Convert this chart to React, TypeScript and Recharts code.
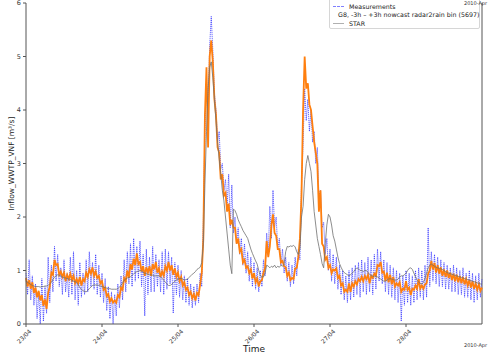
import React from "react";
import { LineChart, Line, XAxis, YAxis, Legend, ReferenceLine } from "recharts";

const FONT = "'DejaVu Sans', sans-serif";

const dayTicks = [0, 24, 48, 72, 96, 120];
const dayLabels = ["23/04", "24/04", "25/04", "26/04", "27/04", "28/04"];
const flowTicks = [0, 1, 2, 3, 4, 5, 6];

// half-hourly values from 23/04 00:00 (m3/s)
const measurements = [
  0.95, 0.55, 1.2, 0.45, 0.9, 0.35, 0.75, 0.1, 0.6, 0.0, 0.85, 0.05, 0.7, 0.2, 1.25, 0.4, 1.1, 0.6, 1.45, 0.8,
  1.3, 0.7, 1.05, 0.55, 1.2, 0.6, 0.95, 0.5, 1.25, 0.55, 1.35, 0.45, 1.0, 0.35, 1.15, 0.5, 0.95, 0.55, 1.2, 0.6,
  1.35, 0.7, 1.15, 0.65, 1.3, 0.55, 1.1, 0.5, 0.95, 0.4, 0.85, 0.25, 0.7, 0.1, 0.6, 0.0, 0.55, 0.15, 0.75, 0.3,
  0.9, 0.45, 1.2, 0.6, 1.35, 0.75, 1.5, 0.7, 1.6, 0.8, 1.45, 0.85, 1.55, 0.7, 1.3, 0.15, 1.4, 0.55, 1.25, 0.6,
  1.45, 0.6, 1.3, 0.7, 1.2, 0.6, 1.35, 0.55, 1.4, 0.65, 1.35, 0.75, 1.25, 0.2, 1.15, 0.55, 1.1, 0.5, 1.0, 0.45,
  0.9, 0.4, 0.85, 0.35, 0.75, 0.3, 0.7, 0.35, 0.75, 0.4, 0.95, 0.7, 1.9, 3.6, 4.6, 3.9, 5.2, 5.75, 5.1, 4.3,
  4.0, 3.4, 3.6, 2.9, 3.0, 2.5, 2.7, 2.2, 2.8, 1.8, 2.6, 1.7, 2.0, 1.5, 1.8, 1.3, 1.6, 1.1, 1.5, 0.95,
  1.35, 0.8, 1.25, 0.7, 1.15, 0.65, 1.05, 0.6, 1.0, 0.7, 1.2, 0.9, 1.7, 1.3, 2.2, 1.6, 2.5, 1.8, 2.0, 1.4,
  1.6, 1.1, 1.4, 0.95, 1.25, 0.8, 1.15, 0.7, 1.1, 0.75, 1.25, 0.9, 1.4, 1.2, 2.6, 3.4, 4.4, 3.8, 4.2, 3.6,
  4.0, 3.4, 3.6, 3.0, 3.3, 2.4, 2.5, 1.8, 1.9, 1.3, 1.6, 1.0, 1.4, 0.8, 1.3, 0.75, 1.25, 0.65, 1.1, 0.55,
  1.0, 0.45, 0.9, 0.4, 1.0, 0.45, 1.05, 0.5, 1.1, 0.55, 1.15, 0.5, 1.2, 0.6, 1.15, 0.55, 1.25, 0.6, 1.2, 0.55,
  1.3, 0.65, 1.4, 0.8, 1.35, 0.75, 1.2, 0.6, 1.15, 0.55, 1.1, 0.5, 1.05, 0.45, 1.0, 0.4, 0.95, 0.05, 0.9, 0.35,
  1.0, 0.4, 0.95, 0.35, 0.9, 0.4, 1.0, 0.45, 1.05, 0.5, 1.0, 0.45, 1.1, 0.5, 1.8, 0.7, 1.35, 0.8, 1.3, 0.75,
  1.25, 0.7, 1.2, 0.7, 1.15, 0.65, 1.1, 0.65, 1.05, 0.6, 1.1, 0.6, 1.05, 0.55, 1.0, 0.55, 1.05, 0.5, 0.95, 0.5,
  1.0, 0.45, 0.95, 0.4, 0.9, 0.45, 0.95, 0.5, 0.85,
];

const nowcast = [
  0.86, 0.7, 0.82, 0.66, 0.78, 0.58, 0.68, 0.5, 0.62, 0.44, 0.54, 0.34, 0.46, 0.28, 0.58, 0.7, 0.96, 0.92, 1.2, 1.1,
  1.12, 0.92, 0.98, 0.88, 0.96, 0.8, 0.92, 0.84, 0.94, 0.82, 0.9, 0.76, 0.84, 0.76, 0.88, 0.72, 0.84, 0.8, 0.96, 0.88,
  1.02, 0.94, 1.06, 0.9, 0.98, 0.86, 0.9, 0.76, 0.8, 0.64, 0.68, 0.52, 0.56, 0.42, 0.48, 0.4, 0.44, 0.4, 0.54, 0.5,
  0.68, 0.64, 0.86, 0.8, 1.0, 0.86, 1.12, 1.02, 1.22, 1.1, 1.32, 1.12, 1.16, 0.98, 1.08, 0.9, 1.06, 0.96, 1.08, 0.9,
  1.12, 1.02, 1.16, 0.96, 1.04, 0.88, 0.98, 0.9, 1.08, 1.0, 1.16, 1.0, 1.1, 0.92, 1.04, 0.88, 0.96, 0.8, 0.88, 0.72,
  0.78, 0.64, 0.68, 0.54, 0.6, 0.48, 0.56, 0.44, 0.58, 0.54, 0.74, 0.95, 1.6, 3.9, 4.8, 3.3, 5.0, 5.3, 4.9, 4.2,
  3.9, 3.3, 3.2, 2.7, 2.8, 2.4, 2.45, 2.1, 2.25, 1.85, 1.95, 1.8, 1.8, 1.5, 1.6, 1.35, 1.4, 1.15, 1.2, 1.05,
  1.08, 0.95, 1.02, 0.85, 0.95, 0.78, 0.85, 0.7, 0.8, 0.82, 0.96, 1.05, 1.55, 1.25, 1.45, 1.85, 2.05, 1.7, 1.65, 1.4,
  1.4, 1.15, 1.18, 1.08, 1.06, 0.9, 0.96, 0.82, 0.86, 0.84, 1.04, 1.05, 1.25, 1.6, 2.4, 4.0, 5.0, 4.4, 4.5, 4.1,
  4.0, 3.7, 3.4, 3.2, 3.0, 2.1, 2.5, 1.5, 1.45, 1.2, 1.25, 1.05, 1.1, 0.95, 1.02, 1.0, 1.04, 0.86, 0.9, 0.72,
  0.76, 0.6, 0.64, 0.6, 0.76, 0.6, 0.76, 0.7, 0.8, 0.74, 0.84, 0.8, 0.88, 0.8, 0.9, 0.84, 0.92, 0.76, 0.9, 0.86,
  0.94, 0.9, 1.1, 1.08, 1.16, 0.96, 0.98, 0.8, 0.96, 0.78, 0.92, 0.74, 0.88, 0.7, 0.76, 0.72, 0.78, 0.6, 0.66, 0.64,
  0.8, 0.64, 0.68, 0.54, 0.66, 0.64, 0.72, 0.66, 0.84, 0.66, 0.72, 0.66, 0.74, 0.76, 0.94, 1.0, 1.18, 1.02, 1.14, 0.96,
  1.1, 0.94, 1.06, 0.9, 1.02, 0.88, 1.0, 0.86, 0.96, 0.82, 0.94, 0.8, 0.92, 0.78, 0.9, 0.76, 0.88, 0.74, 0.84, 0.72,
  0.82, 0.68, 0.8, 0.66, 0.76, 0.64, 0.74, 0.62, 0.68,
];

const star = [
  0.8, 0.78, 0.76, 0.74, 0.72, 0.71, 0.7, 0.7, 0.7, 0.69, 0.7, 0.7, 0.71, 0.71, 0.72, 0.75, 0.78, 0.83, 0.88, 0.9,
  0.92, 0.91, 0.9, 0.88, 0.86, 0.86, 0.85, 0.84, 0.83, 0.82, 0.8, 0.79, 0.78, 0.73, 0.68, 0.65, 0.62, 0.61, 0.6, 0.63,
  0.66, 0.69, 0.72, 0.73, 0.73, 0.73, 0.72, 0.71, 0.7, 0.69, 0.68, 0.67, 0.66, 0.66, 0.65, 0.65, 0.65, 0.65, 0.66, 0.69,
  0.72, 0.77, 0.82, 0.84, 0.86, 0.87, 0.88, 0.91, 0.94, 0.96, 0.98, 0.99, 1.0, 0.99, 0.97, 0.95, 0.94, 0.93, 0.92, 0.92,
  0.91, 0.9, 0.9, 0.9, 0.9, 0.88, 0.85, 0.82, 0.78, 0.75, 0.72, 0.72, 0.74, 0.77, 0.8, 0.82, 0.84, 0.85, 0.85, 0.84,
  0.82, 0.83, 0.84, 0.87, 0.9, 0.93, 0.95, 0.98, 1.02, 1.04, 1.06, 1.15, 1.5, 2.6, 3.6, 4.4, 4.8, 4.9, 4.6, 4.2,
  3.8, 3.4, 3.1, 2.8, 2.5, 2.3, 2.0, 1.7, 1.4, 1.1, 0.94, 2.15, 2.12, 2.05, 1.95, 1.88, 1.82, 1.75, 1.7, 1.65,
  1.6, 1.5, 1.4, 1.32, 1.25, 1.18, 1.12, 1.0, 0.9, 0.88, 0.88, 0.95, 1.1, 1.08, 1.05, 1.08, 1.06, 1.1, 1.05, 1.08,
  1.06, 1.1, 1.08, 1.12, 1.35, 1.45, 1.44, 1.46, 1.45, 1.47, 1.44, 1.35, 1.3, 1.4, 2.0, 2.2, 2.7, 3.0, 3.15, 3.0,
  2.85, 2.5, 2.1, 1.85, 1.6, 1.45, 1.3, 1.13, 1.05, 1.5, 1.85, 2.05, 2.0, 1.85, 1.65, 1.55, 1.4, 1.25, 1.13, 1.06,
  1.0, 0.96, 0.94, 0.92, 0.9, 0.92, 0.95, 0.98, 1.02, 1.05, 1.03, 1.0, 1.0, 0.98, 1.0, 1.0, 0.96, 0.93, 0.9, 0.9,
  0.88, 0.9, 0.88, 0.86, 0.84, 0.82, 0.8, 0.8, 0.82, 0.84, 0.85, 0.84, 0.83, 0.82, 0.82, 0.84, 0.88, 0.9, 0.9, 0.92,
  0.95, 1.0, 1.04, 1.05, 1.02, 0.95, 0.88, 0.82, 0.78, 0.76, 0.75, 0.78, 0.85, 0.95, 1.05, 1.1, 1.12, 1.1, 1.08, 1.06,
  1.05, 1.04, 1.03, 1.02, 1.0, 0.98, 0.96, 0.95, 0.94, 0.93, 0.92, 0.91, 0.9, 0.89, 0.88, 0.87, 0.86, 0.85, 0.84, 0.83,
  0.82, 0.81, 0.8, 0.79, 0.78, 0.77, 0.76, 0.75, 0.74,
];

const rows = measurements.map((m, i) => ({
  t: i / 2,
  measurements: m,
  nowcast: nowcast[i],
  star: star[i],
}));

const legendItems = [
  { label: "Measurements", color: "#8080ff", dash: true },
  { label: "G8, -3h \u2013 +3h nowcast radar2rain bin (5697)", color: "#ffa54f", dash: false },
  { label: "STAR", color: "#b0b0b0", dash: false },
];

function DayTick({ x, y, payload }: any) {
  const label = dayLabels[dayTicks.indexOf(payload.value)];
  const ax = x + 4;
  const ay = y + 1;
  return (
    <text
      x={ax}
      y={ay}
      textAnchor="end"
      dominantBaseline="central"
      fontSize={6}
      fontFamily={FONT}
      fill="#333"
      transform={`rotate(-45 ${ax} ${ay})`}
    >
      {label}
    </text>
  );
}

function LegendBox() {
  return (
    <div
      style={{
        width: 151,
        height: 31,
        boxSizing: "border-box",
        border: "1px solid #d6d6d6",
        borderRadius: 2,
        background: "rgba(255,255,255,0.85)",
        padding: "3px 0 0 3px",
        fontFamily: FONT,
        fontSize: 6.3,
        color: "#222",
      }}
    >
      {legendItems.map((it) => (
        <div key={it.label} style={{ display: "flex", alignItems: "center", height: 8.6 }}>
          <span
            style={{
              display: "inline-block",
              width: 11,
              height: 0,
              borderTop: `1px ${it.dash ? "dashed" : "solid"} ${it.color}`,
              marginRight: 5,
            }}
          />
          <span style={{ whiteSpace: "nowrap" }}>{it.label}</span>
        </div>
      ))}
    </div>
  );
}

export default function App() {
  return (
    <div style={{ position: "absolute", left: 0, top: 0, width: 492, height: 355, background: "#fff" }}>
      <LineChart width={492} height={355} data={rows} margin={{ top: 3, right: 10, bottom: 0, left: 0 }}>
        <XAxis
          dataKey="t"
          type="number"
          domain={[0, 144]}
          ticks={dayTicks}
          interval={0}
          height={31}
          stroke="#555"
          tickSize={3}
          tickMargin={2}
          tick={<DayTick />}
          label={{ value: "Time", position: "insideBottom", offset: 3, fontSize: 9, fontFamily: FONT, fill: "#222" }}
        />
        <YAxis
          type="number"
          domain={[0, 6]}
          ticks={flowTicks}
          interval={0}
          width={26}
          stroke="#555"
          tickSize={3}
          tickMargin={2}
          tick={{ fontSize: 6.5, fontFamily: FONT, fill: "#333" }}
          label={{
            value: "Inflow_WWTP_VNF [m\u00b3/s]",
            angle: -90,
            position: "center",
            dx: -2,
            fontSize: 7.5,
            fontFamily: FONT,
            fill: "#222",
          }}
        />
        <ReferenceLine x={144} stroke="#555" ifOverflow="extendDomain" />
        <Line
          dataKey="measurements"
          type="linear"
          stroke="#2b2bff"
          strokeOpacity={0.8}
          strokeWidth={0.9}
          strokeDasharray="1.2 0.8"
          dot={false}
          isAnimationActive={false}
        />
        <Line
          dataKey="nowcast"
          type="linear"
          stroke="#ff7f0e"
          strokeWidth={1.8}
          dot={false}
          isAnimationActive={false}
        />
        <Line
          dataKey="star"
          type="linear"
          stroke="#707070"
          strokeWidth={0.8}
          dot={false}
          isAnimationActive={false}
        />
        <Legend
          layout="horizontal"
          verticalAlign="middle"
          align="center"
          content={() => <LegendBox />}
          wrapperStyle={{ left: 329, top: -2, width: 151, height: 31 }}
        />
      </LineChart>
      <div style={{ position: "absolute", left: 464, top: 0, fontFamily: FONT, fontSize: 5, color: "#333" }}>
        2010-Apr
      </div>
      <div style={{ position: "absolute", left: 464, top: 342, fontFamily: FONT, fontSize: 5, color: "#333" }}>
        2010-Apr
      </div>
    </div>
  );
}
